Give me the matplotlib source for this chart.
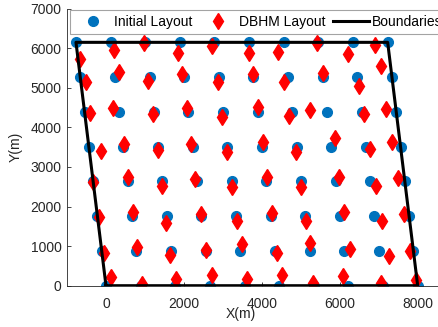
import matplotlib
matplotlib.use("Agg")
import matplotlib.pyplot as plt

plt.rcParams['font.family'] = ['Liberation Sans', 'DejaVu Sans']

# initial layout: one list of x per row, row heights
init_y_rows = [0, 879, 1757, 2636, 3514, 4393, 5271, 6150]
init_x_rows = [
    [0, 888, 1776, 2664, 3552, 4440, 5328, 6216, 7104, 7992],
    [-110, 778, 1666, 2554, 3442, 4330, 5218, 6106, 6994, 7882],
    [-220, 668, 1556, 2444, 3332, 4220, 5108, 5996, 6884, 7772],
    [-330, 558, 1446, 2334, 3222, 4110, 4998, 5886, 6774, 7662],
    [-440, 448, 1336, 2224, 3112, 4000, 4888, 5776, 6664, 7552],
    [-550, 338, 1226, 2114, 3002, 3890, 4778, 5666, 6554, 7442],
    [-660, 228, 1116, 2004, 2892, 3780, 4668, 5556, 6444, 7332],
    [-770, 118, 1006, 1894, 2782, 3670, 4558, 5446, 6334, 7222],
]

# DBHM layout
dbhm_x = [
    121, 915, 1795, 2726, 3607, 4505, 5315, 6069, 7051, 7941,
    -44, 803, 1641, 2556, 3479, 4377, 5231, 6256, 7256, 7794,
    -179, 685, 1538, 2428, 3351, 4249, 5120, 6110, 7069, 7641,
    -326, 572, 1428, 2282, 3238, 4136, 5000, 5982, 6915, 7479,
    -136, 462, 1341, 2179, 3110, 4018, 4872, 5872, 6769, 7341,
    -410, 172, 1213, 2069, 2982, 3905, 4700, 5243, 6623, 7171,
    -520, 341, 1085, 1956, 2864, 3777, 4564, 5556, 6495, 7051,
    -667, 205, 982, 1838, 2710, 3667, 4403, 5418, 6213, 6897,
]
dbhm_y = [
    227, 35, 169, 270, 162, 270, 61, 253, 61, 144,
    818, 985, 775, 902, 1045, 833, 1071, 927, 750, 884,
    1727, 1869, 1591, 1810, 1633, 1843, 1633, 1853, 1633, 1803,
    2611, 2737, 2525, 2687, 2500, 2737, 2500, 2737, 2525, 2712,
    3409, 3570, 3426, 3570, 3384, 3621, 3384, 3722, 3452, 3621,
    4353, 4495, 4328, 4479, 4267, 4520, 4285, 4436, 4335, 4462,
    5136, 5388, 5176, 5338, 5136, 5345, 5151, 5378, 5050, 5555,
    5724, 5951, 6121, 5883, 6052, 5883, 5901, 6121, 5850, 6095,
]

bound_x = [0, 7992, 7222, -770, 0]
bound_y = [0, 0, 6150, 6150, 0]

init_x = [x for row in init_x_rows for x in row]
init_y = [y for y, row in zip(init_y_rows, init_x_rows) for _ in row]

fig = plt.figure(figsize=(4.39, 3.27), dpi=100)
ax = fig.add_axes([67 / 439, 41.3 / 327, 390 / 439, 277 / 327])

ax.plot(init_x, init_y, 'o', color='#0072BD', markersize=7, linestyle='none',
        label='Initial Layout')
ax.plot(dbhm_x, dbhm_y, 'd', color='#FF0000', markersize=8.6, linestyle='none',
        label='DBHM Layout')
ax.plot(bound_x, bound_y, '-', color='black', linewidth=2.2, label='Boundaries')

ax.set_xlim(-1000, 9000)
ax.set_ylim(0, 7000)
ax.set_xticks([0, 2000, 4000, 6000, 8000])
ax.set_yticks(range(0, 7001, 1000))

for s in ['top', 'right']:
    ax.spines[s].set_visible(False)
for s in ['left', 'bottom']:
    ax.spines[s].set_color('#262626')
    ax.spines[s].set_linewidth(0.6)

ax.tick_params(axis='both', direction='in', length=3, width=0.6,
               colors='#262626', labelsize=10)
ax.tick_params(axis='x', pad=8)
ax.tick_params(axis='y', pad=4)

ax.set_xlabel('X(m)', fontsize=10, color='#262626')
ax.set_ylabel('Y(m)', fontsize=10, color='#262626')
ax.xaxis.set_label_coords(0.446, -0.078)
ax.yaxis.set_label_coords(-0.113, 0.5)

leg = fig.legend(loc='upper left', bbox_to_anchor=(70 / 439, 1 - 10 / 327),
                 ncol=3, fontsize=10, frameon=True, fancybox=False,
                 edgecolor='#8c8c8c', handlelength=2.6, handletextpad=0.2,
                 columnspacing=0.55, borderpad=0.35, borderaxespad=0)
leg.get_frame().set_linewidth(0.8)

fig.savefig('out.png', dpi=100)
